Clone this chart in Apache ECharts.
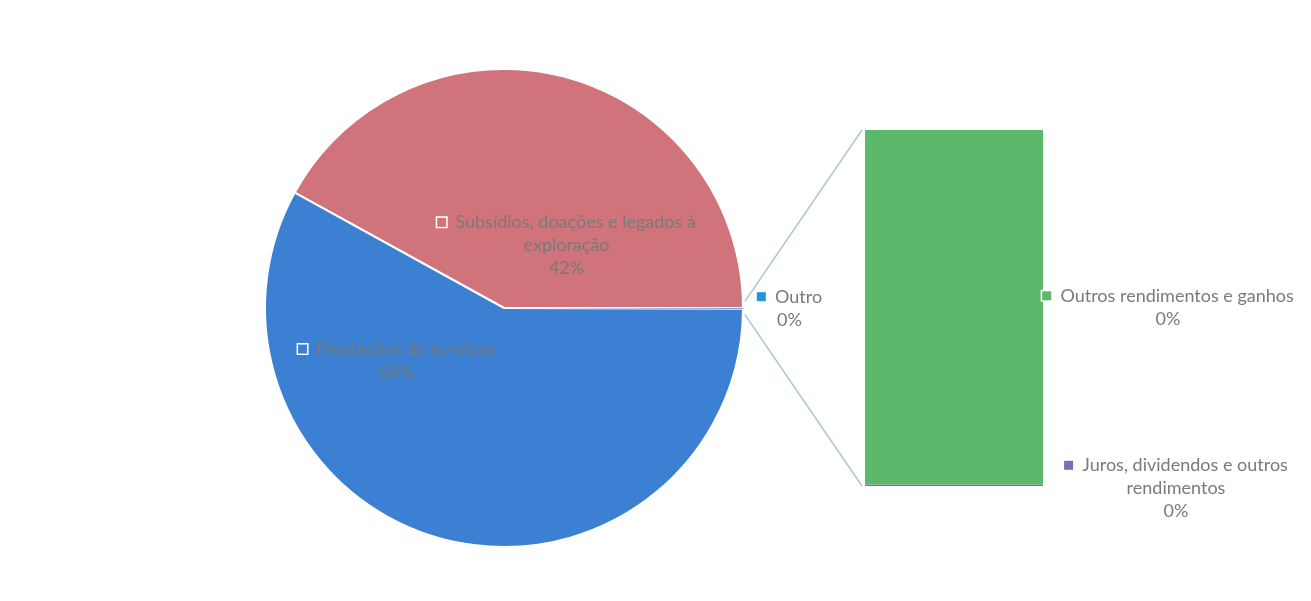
<!DOCTYPE html>
<html><head><meta charset="utf-8">
<script src="https://cdn.jsdelivr.net/npm/echarts@6/dist/echarts.min.js"></script>
<style>html,body{margin:0;padding:0;background:#fff}#c{width:1311px;height:601px}</style>
</head><body><div id="c"></div>
<script>
// ---- data ----
const pieCategories = ['Subsídios, doações e legados à exploração', 'Prestações de serviços', 'Outro'];
const pieLabelText = ['Subsídios, doações e legados à\nexploração', 'Prestações de serviços', 'Outro'];
const pieValues = [42, 58];            // Outro = sum of barValues
const barCategories = ['Juros, dividendos e outros rendimentos', 'Outros rendimentos e ganhos'];
const barLabelText = ['Juros, dividendos e outros\nrendimentos', 'Outros rendimentos e ganhos'];
const barValues = [0.0002, 0.05];

// ---- styles ----
const FONT = 'Lato';
const colors = { sub: '#d0737b', pre: '#3b80d3', out: '#2196e0', jur: '#7e6bb5', ogr: '#5cb96b' };
const textColor = '#7a7a7a';

const outroValue = barValues.reduce((a, b) => a + b, 0);
const total = pieValues[0] + pieValues[1] + outroValue;
const pct = v => Math.round(v / total * 100) + '%';

const PIE_C = [504, 308], PIE_R = 239;
const GRID = { left: 865, top: 130, right: 268, bottom: 115 };

function rich(markColor, bordered) {
  return {
    m: { width: 9, height: 9, backgroundColor: markColor, borderColor: bordered ? '#fff' : markColor, borderWidth: bordered ? 1.5 : 0 },
    t: { fontFamily: FONT, fontSize: 18, color: textColor, lineHeight: 23 }
  };
}
function lbl(text, v) {
  const lines = text.split('\n');
  return '{m|}{t|  ' + lines[0] + '}\n' + lines.slice(1).map(l => '{t|' + l + '}').join('\n') + (lines.length > 1 ? '\n' : '') + '{t|' + pct(v) + '}';
}

const chart = echarts.init(document.getElementById('c'));
const pieData = [
  { name: pieCategories[0], value: pieValues[0], itemStyle: { color: colors.sub },
    label: { position: 'inside', align: 'center', offset: [32, 56], formatter: () => lbl(pieLabelText[0], pieValues[0]), rich: rich(colors.sub, true) } },
  { name: pieCategories[1], value: pieValues[1], itemStyle: { color: colors.pre },
    label: { position: 'inside', align: 'center', offset: [-77, -66], formatter: () => lbl(pieLabelText[1], pieValues[1]), rich: rich(colors.pre, true) } },
  { name: pieCategories[2], value: outroValue, itemStyle: { color: colors.pre, borderWidth: 0 },
    label: { position: 'inside', align: 'center', offset: [163, 0], formatter: () => lbl(pieLabelText[2], outroValue), rich: rich(colors.out, false) } }
];

chart.setOption({
  backgroundColor: '#fff',
  animation: false,
  grid: GRID,
  xAxis: { type: 'category', data: ['Outro'], show: false },
  yAxis: { type: 'value', min: 0, max: outroValue, show: false },
  series: [
    { type: 'pie', center: PIE_C, radius: PIE_R, startAngle: 0, clockwise: false, silent: true,
      itemStyle: { borderColor: '#fff', borderWidth: 2 }, labelLine: { show: false },
      data: pieData },
    { type: 'bar', stack: 'o', barWidth: '100%', silent: true, name: barCategories[0],
      data: [barValues[0]], itemStyle: { color: colors.jur },
      label: { show: true, position: 'inside', align: 'center', offset: [222, 3], formatter: () => lbl(barLabelText[0], barValues[0]), rich: rich(colors.jur, false) } },
    { type: 'bar', stack: 'o', barWidth: '100%', silent: true, name: barCategories[1],
      data: [barValues[1]], itemStyle: { color: colors.ogr },
      label: { show: true, position: 'inside', align: 'center', offset: [214, 0], formatter: () => lbl(barLabelText[1], barValues[1]), rich: rich(colors.ogr, true) } }
  ]
});

// connector lines from the "Outro" slice to the bar
const topLeft = chart.convertToPixel({ xAxisIndex: 0, yAxisIndex: 0 }, [0, outroValue]);
const botLeft = chart.convertToPixel({ xAxisIndex: 0, yAxisIndex: 0 }, [0, 0]);
const barLeftX = GRID.left - 3;
const a = 1.6 * Math.PI / 180;
const p1 = [PIE_C[0] + PIE_R * Math.cos(a) + 2, PIE_C[1] - PIE_R * Math.sin(a)];
const p2 = [PIE_C[0] + PIE_R * Math.cos(a) + 2, PIE_C[1] + PIE_R * Math.sin(a)];
chart.setOption({
  graphic: [
    { type: 'line', shape: { x1: p1[0], y1: p1[1], x2: barLeftX, y2: topLeft[1] }, style: { stroke: '#a8cbc6', lineWidth: 1.5 }, z: 10 },
    { type: 'line', shape: { x1: p2[0], y1: p2[1], x2: barLeftX, y2: botLeft[1] }, style: { stroke: '#a8cbc6', lineWidth: 1.5 }, z: 10 }
  ]
});
</script></body></html>
